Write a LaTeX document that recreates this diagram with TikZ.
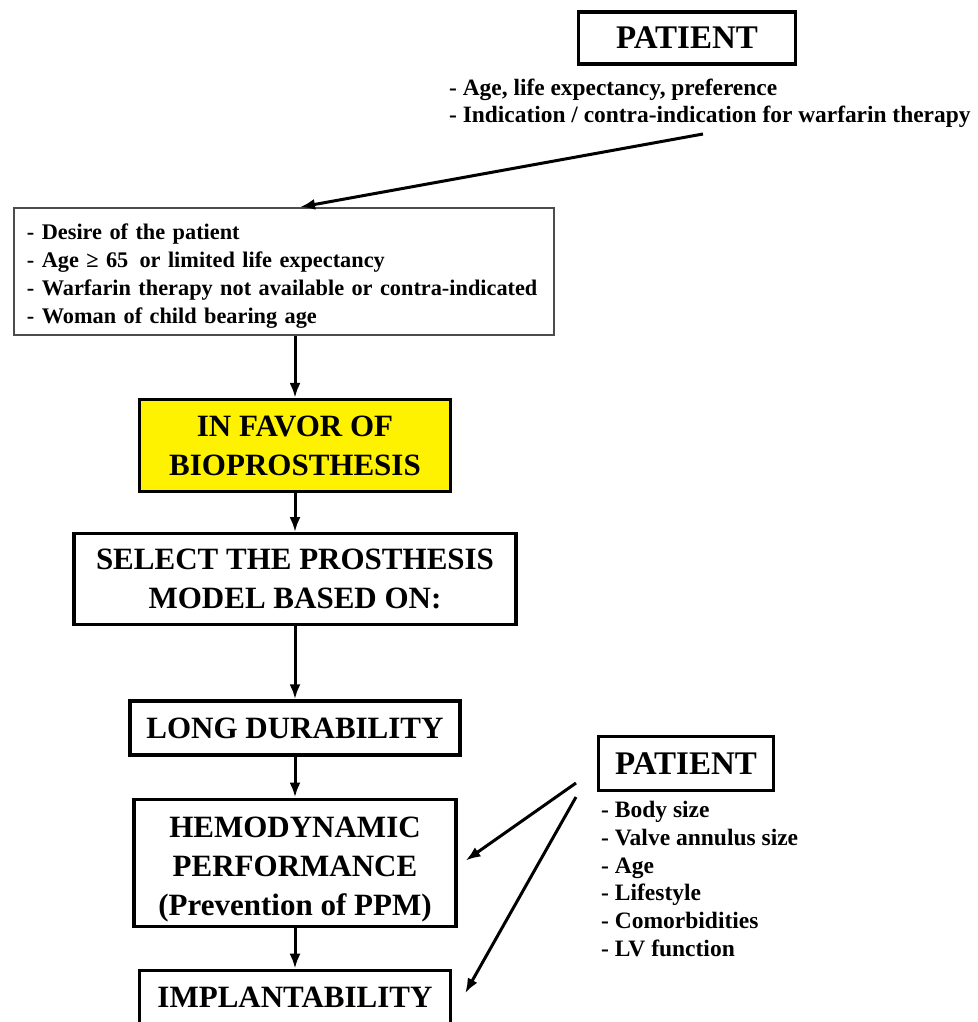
\documentclass[tikz,border=0pt]{standalone}
\usepackage{fontspec}
\setmainfont{Liberation Serif}
\usepackage{tikz}
\usetikzlibrary{positioning,arrows.meta}
\definecolor{favoryellow}{RGB}{255,242,0}
\tikzset{>={Latex[length=15pt,width=11pt]}}
\tikzstyle{arrow}  = [->,
                      line width=3pt,
                      shorten >=0pt]
\tikzstyle{box}    = [draw,
                      line width=3.2pt,
                      align=center,
                      inner sep=0pt,
                      font=\bfseries\fontsize{31}{39}\selectfont]
\tikzstyle{patientbox} = [box,
                      font=\bfseries\fontsize{33}{39}\selectfont]
\tikzstyle{critbox} = [draw=black!70,
                      line width=1.8pt,
                      align=left,
                      text width=514pt,
                      inner xsep=13pt,
                      inner ysep=0pt,
                      font=\bfseries\fontsize{22.3}{28}\selectfont]
\tikzstyle{listtext} = [align=left,
                      inner sep=0pt]

\begin{document}
\begin{tikzpicture}[x=1pt,y=1pt]
  \useasboundingbox (0,0) rectangle (977,-1022);

  % Nodes
  \node[patientbox, minimum width=217pt, minimum height=52pt] (pat1) at (687,-38) {PATIENT};
  \node[listtext, anchor=north west, font=\bfseries\fontsize{23.4}{26.6}\selectfont] (pat1list) at (449,-79)
    {- Age, life expectancy, preference\\
     - Indication / contra-indication for warfarin therapy};
  \node[box, fill=favoryellow, minimum width=311pt, minimum height=92pt] (favor) at (295,-445.5)
    {IN FAVOR OF\\BIOPROSTHESIS};
  \node[critbox, minimum height=127pt, above=62pt of favor, xshift=-11pt] (crit)
    {\rule{0pt}{25pt}- Desire of the patient\\
     - Age ≥ 65\enspace or limited life expectancy\\
     - Warfarin therapy not available or contra-indicated\\
     - Woman of child bearing age};
  \node[box, minimum width=442pt, minimum height=91pt, below=39pt of favor] (select)
    {SELECT THE PROSTHESIS\\MODEL BASED ON:};
  \node[box, minimum width=330pt, minimum height=54pt, below=73pt of select] (long)
    {LONG DURABILITY};
  \node[box, minimum width=322pt, minimum height=127pt, below=41pt of long] (hemo)
    {\rule{0pt}{35pt}HEMODYNAMIC\\PERFORMANCE\\(Prevention of PPM)};
  \node[box, minimum width=311pt, minimum height=54pt, below=41pt of hemo] (implant)
    {IMPLANTABILITY};
  \node[patientbox, minimum width=175pt, minimum height=54pt] (pat2) at (686,-763.5) {PATIENT};
  \node[listtext, anchor=north west, font=\bfseries\fontsize{23.5}{27.8}\selectfont] (pat2list) at (601,-801)
    {- Body size\\
     - Valve annulus size\\
     - Age\\
     - Lifestyle\\
     - Comorbidities\\
     - LV function};

  % Edges
  \coordinate (pat1tail) at (703,-134);
  \coordinate (pat2tail) at (576,-783);
  \coordinate (pat2tailb) at (576,-797);
  \draw[arrow] (pat1tail) -- ([xshift=16pt]crit.north);
  \draw[arrow] (crit.south -| favor.north) -- (favor.north);
  \draw[arrow] (favor) -- (select);
  \draw[arrow] (select) -- (long);
  \draw[arrow] (long) -- (hemo);
  \draw[arrow] (hemo) -- (implant);
  \draw[arrow] (pat2tail) -- ([xshift=8pt,yshift=2pt]hemo.east);
  \draw[arrow] (pat2tailb) -- ([xshift=13pt,yshift=4pt]implant.east);

\end{tikzpicture}
\end{document}
